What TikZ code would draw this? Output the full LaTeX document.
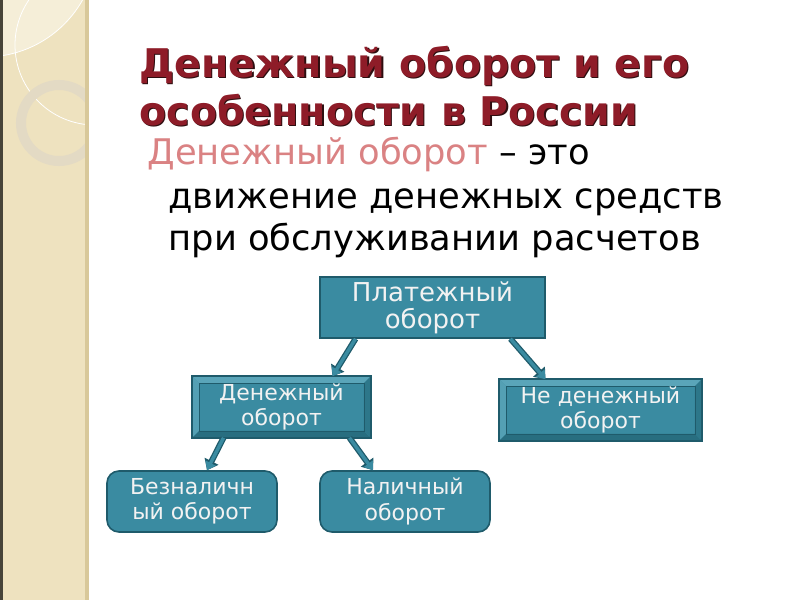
\documentclass[tikz,border=0pt]{standalone}
\usepackage{fontspec}
\setmainfont{DejaVu Sans}
\usetikzlibrary{calc}
\usetikzlibrary{arrows.meta}
\usetikzlibrary{positioning}

\definecolor{strip}{HTML}{EEE2BF}
\definecolor{stripedge}{HTML}{D8C89A}
\definecolor{ringc}{HTML}{E3DAC4}
\definecolor{boxfill}{HTML}{3A8BA1}
\definecolor{boxline}{HTML}{1F5B6B}
\definecolor{bevlight}{HTML}{5AA5B9}
\definecolor{bevdark}{HTML}{286E80}
\definecolor{rose}{HTML}{DA8283}
\definecolor{titlec}{HTML}{8E1C28}
\definecolor{titleshadow}{HTML}{2E0E10}

\begin{document}
\begin{tikzpicture}[x=1pt,y=-1pt,
  box/.style={draw=boxline, line width=1.6pt, fill=boxfill, text=white!95!black,
    align=center, inner sep=0pt},
  flatbox/.style={box, minimum width=225pt, minimum height=61pt},
  bevbox/.style={box, minimum width=#1, minimum height=60pt},
  roundbox/.style={box, rounded corners=12pt, minimum width=170pt, minimum height=61pt},
  boxtext/.style={font=\fontsize{22}{25.5}\selectfont},
  titletext/.style={anchor=base west, font=\bfseries\fontsize{39.5}{46}\selectfont},
  bodytext/.style={anchor=base west, font=\fontsize{35.3}{42}\selectfont},
  arr/.style={boxfill, line width=3.4pt, -{Triangle[width=11pt,length=8pt]},
    preaction={draw=boxline, line width=6pt, -{Triangle[width=15pt,length=10pt]}}}
]
\useasboundingbox (0,0) rectangle (800,600);
\fill[white] (0,0) rectangle (800,600);
% left strip
\begin{scope}
\clip (0,0) rectangle (88,600);
\fill[strip] (0,0) rectangle (88,600);
\fill[strip!60!white] (-15,-55) circle (112);
\draw[white, line width=0.8pt] (-15,-55) circle (112);
\draw[white, line width=0.8pt] (95,45) circle (80);
\draw[ringc, line width=10pt] (59,123) circle (38);
\end{scope}
\fill[stripedge] (85,0) rectangle (89,600);
\fill[black!70!strip] (0,0) rectangle (2.5,600);

% title
\node[titletext, text=titleshadow] at (137.2,78.2) {Денежный оборот и его};
\node[titletext, text=titleshadow] at (137.2,126.2) {особенности в России};
\node[titletext, text=titlec] (t1) at (136,77) {Денежный оборот и его};
\node[titletext, text=titlec] (t2) at (136,125) {особенности в России};
\node[bodytext] (d1) at (144,164) {\textcolor{rose}{Денежный оборот} – это};
\node[bodytext] (d2) at (165,208) {движение денежных средств};
\node[bodytext] (d3) at (165,250) {при обслуживании расчетов};

% boxes
\node[flatbox, font=\fontsize{26}{27}\selectfont] (pl) at (432.5,307.5) {Платежный\\оборот};
\node[bevbox=177pt, boxtext] (den) at (281.5,407) {};
\node[bevbox=201pt, boxtext] (ned) at (600.5,410) {};
\node[roundbox, boxtext] (bez) at (192,501.5) {Безналичн\\ый оборот};
\node[roundbox, boxtext] (nal) at (405,501.5) {Наличный\\оборот};

% bevels
\foreach \b in {den,ned} {
  \fill[bevlight] (\b.north west) -- (\b.north east) -- ($(\b.north east)+(-7,7)$) -- ($(\b.north west)+(7,7)$) -- cycle;
  \fill[bevlight!80!boxfill] (\b.north west) -- ($(\b.north west)+(7,7)$) -- ($(\b.south west)+(7,-7)$) -- (\b.south west) -- cycle;
  \fill[bevdark] (\b.south west) -- ($(\b.south west)+(7,-7)$) -- ($(\b.south east)+(-7,-7)$) -- (\b.south east) -- cycle;
  \fill[bevdark!70!boxfill] (\b.north east) -- ($(\b.north east)+(-7,7)$) -- ($(\b.south east)+(-7,-7)$) -- (\b.south east) -- cycle;
  \draw[boxline, line width=0.6pt] ($(\b.north west)+(7,7)$) rectangle ($(\b.south east)+(-7,-7)$);
  \draw[boxline, line width=1.6pt] (\b.north west) rectangle (\b.south east);
}
\node[boxtext, text=white!95!black, align=center] (dent) at (den) {Денежный\\оборот};
\node[boxtext, text=white!95!black, align=center] (nedt) at (ned) {Не денежный\\оборот};

% arrows
\draw[arr] ([xshift=-77pt]pl.south) -- ([xshift=51pt]den.north);
\draw[arr] ([xshift=78pt]pl.south) -- ([xshift=-55pt]ned.north);
\draw[arr] ([xshift=-58pt]den.south) -- ([xshift=15pt]bez.north);
\draw[arr] ([xshift=68pt]den.south) -- ([xshift=-32pt]nal.north);
\end{tikzpicture}
\end{document}
